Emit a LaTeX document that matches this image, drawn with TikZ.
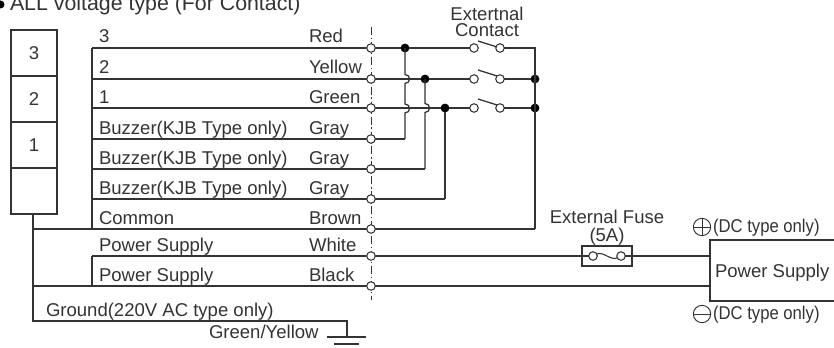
\documentclass[tikz,border=0pt]{standalone}
\usepackage{fontspec}
\usepackage{graphicx}
\setmainfont{Liberation Sans}
\tikzset{
  wire/.style={line width=0.95pt,draw=ink},
  lbl/.style={anchor=base west,inner sep=0pt,outer sep=0pt,text=ink,font=\fontsize{13.9}{16}\selectfont},
  clbl/.style={anchor=base,inner sep=0pt,outer sep=0pt,text=ink,font=\fontsize{13.9}{16}\selectfont},
  lamp/.style={draw=ink,line width=0.95pt,minimum width=34.5pt,minimum height=34.5pt,inner sep=0pt,outer sep=0pt,text=ink,font=\fontsize{13.9}{16}\selectfont},
  term/.style={circle,draw=ink,fill=white,line width=0.8pt,minimum size=6.4pt,inner sep=0pt,outer sep=0pt},
  joint/.style={circle,fill=black,minimum size=6.6pt,inner sep=0pt,outer sep=0pt},
  polar/.style={circle,draw=ink,line width=0.7pt,minimum size=13pt,inner sep=0pt,outer sep=0pt},
  pad/.style={coordinate},
}
\definecolor{ink}{HTML}{333333}
\begin{document}
\begin{tikzpicture}[x=0.75pt,y=-0.75pt]
\useasboundingbox (0,0) rectangle (834,348);
% title
\fill[black] (0.5,4.5) circle[radius=4];
\node[lbl,font=\fontsize{16}{18}\selectfont] (title) at (10,11) {ALL voltage type (For Contact)};
% lamp stack
\node[lamp] (l3) at (34,53) {3};
\node[lamp] (l2) at (34,99) {2};
\node[lamp] (l1) at (34,145) {1};
\node[lamp] (l0) at (34,191) {};
% anchor points
\foreach \n/\y in {a/48,b/79,c/108,d/139,e/169,f/199,g/229,h/256,i/286}{
  \node[pad] (w\n) at (92,\y) {};
  \node[pad] (s\n) at (33,\y) {};
  \node[pad] (t\n) at (371,\y) {};
}
\node[pad] (gnda) at (33,321) {};
\node[pad] (gndb) at (347,321) {};
\node[pad] (gndc) at (347,337) {};
\node[pad] (stem) at (33,214) {};
% dash-dot separator
\node[pad] (sept) at (371,27) {};
\node[pad] (sepb) at (371,300) {};
\draw[line width=0.7pt,draw=ink,dash pattern=on 6pt off 2pt on 1.2pt off 2pt] (sept) -- (sepb);
% junctions, contacts
\node[joint] (j1) at (405,48) {};
\node[joint] (j2) at (425,79) {};
\node[joint] (j3) at (445,108) {};
\node[term] (c1a) at (474,48) {};
\node[term] (c1b) at (500,48) {};
\node[term] (c2a) at (474,79) {};
\node[term] (c2b) at (500,79) {};
\node[term] (c3a) at (474,108) {};
\node[term] (c3b) at (500,108) {};
\node[joint] (r2) at (535,79) {};
\node[joint] (r3) at (535,108) {};
\node[pad] (r1) at (535,48) {};
\node[pad] (rg) at (535,229) {};
\node[pad] (d2) at (405,139) {};
\node[pad] (e2) at (425,169) {};
\node[pad] (f2) at (445,199) {};
% power supply, fuse
\node[pad] (psn) at (710,256) {};
\node[pad] (psm) at (710,286) {};
\node[pad] (pst) at (710,240) {};
\node[pad] (psb) at (710,301) {};
\node[pad] (pste) at (834,240) {};
\node[pad] (psbe) at (834,301) {};
% wires
\draw[wire] (wa) -- (wg);
\draw[wire] (wa) -- (j1) -- (c1a) (c1b) -- (r1) -- (rg);
\draw[wire] (wb) -- (j2) -- (c2a) (c2b) -- (r2);
\draw[wire] (wc) -- (j3) -- (c3a) (c3b) -- (r3);
\draw[wire] (wd) -- (d2) (we) -- (e2) (wf) -- (f2);
\draw[wire] (stem) -- (gnda) -- (gndb) -- (gndc);
\draw[wire] (sg) -- (rg);
\draw[wire] (si) -- (psm);
\draw[wire] (wh) -- (wi);
\draw[wire] (wh) -- (psn);
% risers hopping over the horizontal wires
\draw[wire] (j1.center) -- ++(0,26.5) .. controls +(6,0) and +(6,0) .. ++(0,9)
  -- ++(0,20.5) .. controls +(6,0) and +(6,0) .. ++(0,9) -- (d2);
\draw[wire] (j2.center) -- ++(0,24.5) .. controls +(6,0) and +(6,0) .. ++(0,9) -- (e2);
\draw[wire] (j3) -- (f2);
% terminals on the separator
\foreach \n in {a,b,c,d,e,f,g,h,i}{\node[term] (tt\n) at (t\n) {};}
% contact blades
\node[pad] (b1a) at (478,41) {}; \node[pad] (b1b) at (497,47) {};
\node[pad] (b2a) at (478,70) {}; \node[pad] (b2b) at (497,76) {};
\node[pad] (b3a) at (478,99) {}; \node[pad] (b3b) at (497,105) {};
\draw[wire] (b1a) -- (b1b);
\draw[wire] (b2a) -- (b2b);
\draw[wire] (b3a) -- (b3b);
% fuse
\node[draw=ink,fill=white,line width=0.95pt,minimum width=37.5pt,minimum height=15pt,inner sep=0pt,outer sep=0pt] (fuse) at (607,256) {};
\node[term] (fa) at (593,256) {};
\node[term] (fb) at (621,256) {};
\draw[wire] (fuse.west) -- (fa);
\draw[wire] (fuse.east) -- (fb);
\draw[line width=0.8pt,draw=ink] (fa) .. controls (603,251) and (611,261) .. (fb);
% supply box
\draw[wire] (pste) -- (pst) -- (psb) -- (psbe);
\node[lbl] (pslabel) at (715,278) {Power Supply};
% polarity
\node[polar] (plus) at (702,227) {};
\draw[line width=0.7pt,draw=ink] (plus.west) -- (plus.east) (plus.north) -- (plus.south);
\node[polar] (minus) at (702,314) {};
\draw[line width=0.7pt,draw=ink] (minus.west) -- (minus.east);
\node[lbl] (dcp) at (713,233) {\scalebox{0.9}[1]{(DC type only)}};
\node[lbl] (dcm) at (713,320) {\scalebox{0.9}[1]{(DC type only)}};
\node[clbl] (ef) at (607,224) {External Fuse};
\node[clbl] (fa5) at (607,242) {(5A)};
\node[clbl] (ec) at (487,21) {Extertnal};
\node[clbl] (ec2) at (487,37) {Contact};
% wire labels
\node[lbl] (n3) at (99,43) {3};
\node[lbl] (n2) at (99,74) {2};
\node[lbl] (n1) at (99,104) {1};
\node[lbl] (nb1) at (99,135) {Buzzer(KJB Type only)};
\node[lbl] (nb2) at (99,165) {Buzzer(KJB Type only)};
\node[lbl] (nb3) at (99,195) {Buzzer(KJB Type only)};
\node[lbl] (nc) at (99,225) {Common};
\node[lbl] (np1) at (99,252) {Power Supply};
\node[lbl] (np2) at (99,282) {Power Supply};
\node[lbl] (ngr) at (46,317) {Ground(220V AC type only)};
\node[lbl] (ngy) at (209,339) {Green/Yellow};
\node[lbl] (cr) at (309,43) {Red};
\node[lbl] (cy) at (309,74) {Yellow};
\node[lbl] (cg) at (309,104) {Green};
\node[lbl] (cg1) at (309,135) {Gray};
\node[lbl] (cg2) at (309,165) {Gray};
\node[lbl] (cg3) at (309,195) {Gray};
\node[lbl] (cbr) at (309,225) {Brown};
\node[lbl] (cw) at (309,252) {White};
\node[lbl] (cb) at (309,282) {Black};
% earth
\node[pad] (e1a) at (327,337) {}; \node[pad] (e1b) at (366,337) {};
\node[pad] (e2a) at (334,344) {}; \node[pad] (e2b) at (359,344) {};
\draw[wire] (e1a) -- (e1b);
\draw[wire] (e2a) -- (e2b);
\end{tikzpicture}
\end{document}
